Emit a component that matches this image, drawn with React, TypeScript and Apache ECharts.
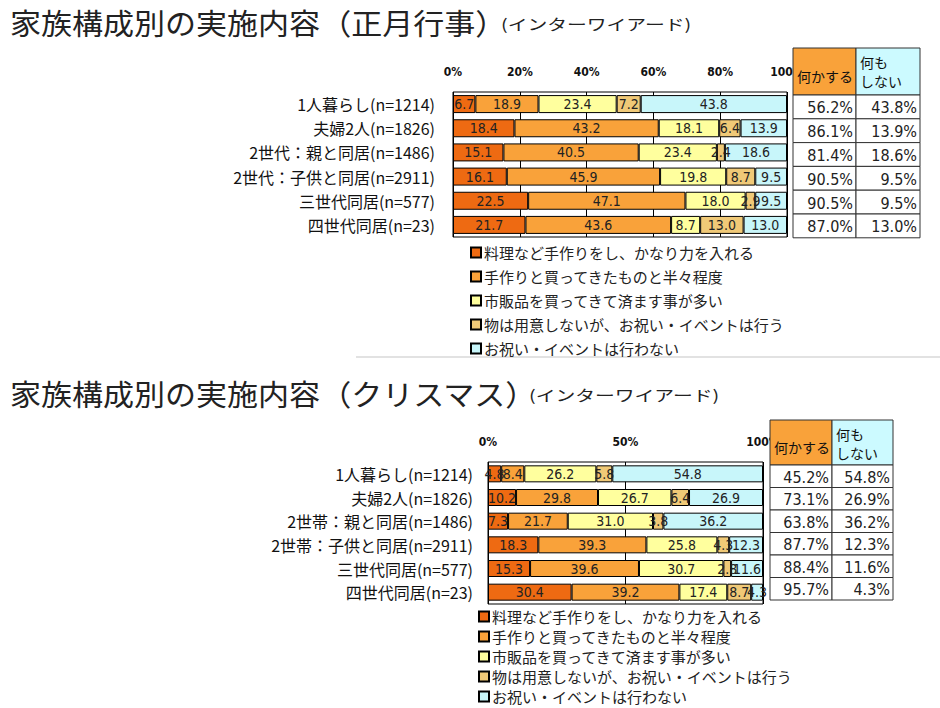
import React, { useEffect, useRef } from "react";
import * as echarts from "echarts";

const seriesNames = [
  "料理など手作りをし、かなり力を入れる",
  "手作りと買ってきたものと半々程度",
  "市販品を買ってきて済ます事が多い",
  "物は用意しないが、お祝い・イベントは行う",
  "お祝い・イベントは行わない",
];
const seriesColors = ["#EE6A12", "#F9A23A", "#FFFF9E", "#F0C977", "#C8F6FA"];

// 正月行事
const catsTop = [
  "1人暮らし(n=1214)",
  "夫婦2人(n=1826)",
  "2世代：親と同居(n=1486)",
  "2世代：子供と同居(n=2911)",
  "三世代同居(n=577)",
  "四世代同居(n=23)",
];
const top1 = [6.7, 18.4, 15.1, 16.1, 22.5, 21.7];
const top2 = [18.9, 43.2, 40.5, 45.9, 47.1, 43.6];
const top3 = [23.4, 18.1, 23.4, 19.8, 18.0, 8.7];
const top4 = [7.2, 6.4, 2.4, 8.7, 2.9, 13.0];
const top5 = [43.8, 13.9, 18.6, 9.5, 9.5, 13.0];
const topDo = [56.2, 86.1, 81.4, 90.5, 90.5, 87.0];
const topNothing = [43.8, 13.9, 18.6, 9.5, 9.5, 13.0];

// クリスマス
const catsBottom = [
  "1人暮らし(n=1214)",
  "夫婦2人(n=1826)",
  "2世帯：親と同居(n=1486)",
  "2世帯：子供と同居(n=2911)",
  "三世代同居(n=577)",
  "四世代同居(n=23)",
];
const bot1 = [4.8, 10.2, 7.3, 18.3, 15.3, 30.4];
const bot2 = [8.4, 29.8, 21.7, 39.3, 39.6, 39.2];
const bot3 = [26.2, 26.7, 31.0, 25.8, 30.7, 17.4];
const bot4 = [5.8, 6.4, 3.8, 4.3, 2.8, 8.7];
const bot5 = [54.8, 26.9, 36.2, 12.3, 11.6, 4.3];
const botDo = [45.2, 73.1, 63.8, 87.7, 88.4, 95.7];
const botNothing = [54.8, 26.9, 36.2, 12.3, 11.6, 4.3];

const titleTop = "家族構成別の実施内容（正月行事）";
const titleBottom = "家族構成別の実施内容（クリスマス）";
const subTitle = "(インターワイアード)";
const headDo = "何かする";
const headNothing = "何も\nしない";

const JP = "'Noto Sans CJK JP', 'Noto Sans', sans-serif";
const NUM = "'Liberation Sans Narrow', 'DejaVu Sans Condensed', Roboto, sans-serif";

function makeTable(
  x0: number,
  w1: number,
  w2: number,
  yH: number,
  hH: number,
  rowH: number,
  doVals: number[],
  noVals: number[]
) {
  const els: any[] = [];
  els.push({
    type: "rect",
    z: 100,
    shape: { x: x0, y: yH, width: w1, height: hH },
    style: { fill: "#F9A23A", stroke: "#333", lineWidth: 1 },
  });
  els.push({
    type: "rect",
    z: 100,
    shape: { x: x0 + w1, y: yH, width: w2, height: hH },
    style: { fill: "#CCFAFF", stroke: "#333", lineWidth: 1 },
  });
  els.push({
    type: "text",
    z: 101,
    x: x0 + 4,
    y: yH + hH / 2 + 4,
    style: {
      text: headDo,
      fill: "#111",
      fontSize: 14,
      fontFamily: JP,
      verticalAlign: "middle",
    },
  });
  els.push({
    type: "text",
    z: 101,
    x: x0 + w1 + 4,
    y: yH + 4,
    style: {
      text: headNothing,
      fill: "#111",
      fontSize: 14,
      lineHeight: 19,
      fontFamily: JP,
      verticalAlign: "top",
    },
  });
  doVals.forEach((v, i) => {
    const y = yH + hH + i * rowH;
    els.push({
      type: "rect",
      z: 100,
      shape: { x: x0, y, width: w1, height: rowH },
      style: { fill: "#fff", stroke: "#333", lineWidth: 1 },
    });
    els.push({
      type: "rect",
      z: 100,
      shape: { x: x0 + w1, y, width: w2, height: rowH },
      style: { fill: "#fff", stroke: "#333", lineWidth: 1 },
    });
    els.push({
      type: "text",
      z: 101,
      x: x0 + w1 - 3,
      y: y + rowH / 2 + 1,
      style: {
        text: v.toFixed(1) + "%",
        fill: "#222",
        fontSize: 16,
        fontFamily: NUM,
        align: "right",
        verticalAlign: "middle",
      },
    });
    els.push({
      type: "text",
      z: 101,
      x: x0 + w1 + w2 - 3,
      y: y + rowH / 2 + 1,
      style: {
        text: noVals[i].toFixed(1) + "%",
        fill: "#222",
        fontSize: 16,
        fontFamily: NUM,
        align: "right",
        verticalAlign: "middle",
      },
    });
  });
  return els;
}

function makeSeries(data: number[][], idx: number, stack: string) {
  return data.map((d, i) => ({
    name: seriesNames[i],
    type: "bar",
    stack,
    xAxisIndex: idx,
    yAxisIndex: idx,
    barWidth: idx === 0 ? 18 : 17,
    data: d,
    itemStyle: { color: seriesColors[i], borderColor: "#000", borderWidth: 1 },
    label: {
      show: true,
      position: "inside",
      formatter: (p: any) => Number(p.value).toFixed(1),
      fontSize: 14,
      color: "#222",
      fontFamily: NUM,
    },
  }));
}

export default function App() {
  const ref = useRef<HTMLDivElement>(null);
  useEffect(() => {
    document.body.style.margin = "0";
    if (!ref.current) return;
    const chart = echarts.init(ref.current, undefined, { renderer: "svg" });
    const xAxisBase = (gridIndex: number, interval: number) => ({
      gridIndex,
      type: "value",
      position: "top",
      min: 0,
      max: 100,
      interval,
      axisLabel: {
        formatter: "{value}%",
        fontSize: 12,
        fontWeight: "bold",
        color: "#111",
        margin: 14,
        fontFamily: NUM,
      },
      axisLine: { show: false },
      axisTick: { show: true, inside: true, length: 4, lineStyle: { color: "#000" } },
      splitLine: { show: true, lineStyle: { color: "#000", width: 1 } },
    });
    const yAxisBase = (gridIndex: number, data: string[], margin: number) => ({
      gridIndex,
      type: "category",
      data,
      inverse: true,
      axisLine: { show: false },
      axisTick: { show: false },
      axisLabel: { fontSize: 16, color: "#111", margin, fontFamily: JP },
    });
    const legendBase = (left: number, top: number, gap: number, height: number) => ({
      data: seriesNames,
      orient: "vertical",
      left,
      top,
      height,
      padding: 0,
      itemWidth: 10,
      itemHeight: 10,
      itemGap: gap,
      icon: "rect",
      selectedMode: false,
      textStyle: { fontSize: 15, color: "#222", fontFamily: JP, padding: [0, 0, 0, -2] },
    });
    const option: any = {
      animation: false,
      backgroundColor: "#fff",
      grid: [
        { left: 453, top: 92, width: 334, height: 145, show: true, borderColor: "#000", borderWidth: 1, backgroundColor: "#fff" },
        { left: 488, top: 462, width: 275, height: 142, show: true, borderColor: "#000", borderWidth: 1, backgroundColor: "#fff" },
      ],
      xAxis: [xAxisBase(0, 20), xAxisBase(1, 50)],
      yAxis: [yAxisBase(0, catsTop, 18), yAxisBase(1, catsBottom, 15)],
      legend: [legendBase(470, 245, 9, 140), legendBase(478, 609, 5, 110)],
      series: [
        ...makeSeries([top1, top2, top3, top4, top5], 0, "top"),
        ...makeSeries([bot1, bot2, bot3, bot4, bot5], 1, "bottom"),
      ],
      graphic: [
        {
          type: "text",
          x: 10,
          y: 22,
          scaleX: 1.07,
          style: { text: titleTop, fontSize: 29, fill: "#222", fontFamily: JP, verticalAlign: "middle" },
        },
        {
          type: "text",
          x: 501,
          y: 24,
          scaleX: 1.32,
          style: { text: subTitle, fontSize: 15, fill: "#222", fontFamily: JP, verticalAlign: "middle" },
        },
        {
          type: "text",
          x: 10,
          y: 393,
          scaleX: 1.07,
          style: { text: titleBottom, fontSize: 29, fill: "#222", fontFamily: JP, verticalAlign: "middle" },
        },
        {
          type: "text",
          x: 529,
          y: 395,
          scaleX: 1.32,
          style: { text: subTitle, fontSize: 15, fill: "#222", fontFamily: JP, verticalAlign: "middle" },
        },
        {
          type: "line",
          shape: { x1: 356, y1: 357, x2: 940, y2: 357 },
          style: { stroke: "#e2e2e2", lineWidth: 2 },
        },
        ...makeTable(793, 63, 64, 48, 47, 23.8, topDo, topNothing),
        ...makeTable(770, 62, 61, 420, 45, 22.5, botDo, botNothing),
      ],
    };
    chart.setOption(option);
    return () => chart.dispose();
  }, []);
  return <div ref={ref} style={{ width: 940, height: 708 }} />;
}
